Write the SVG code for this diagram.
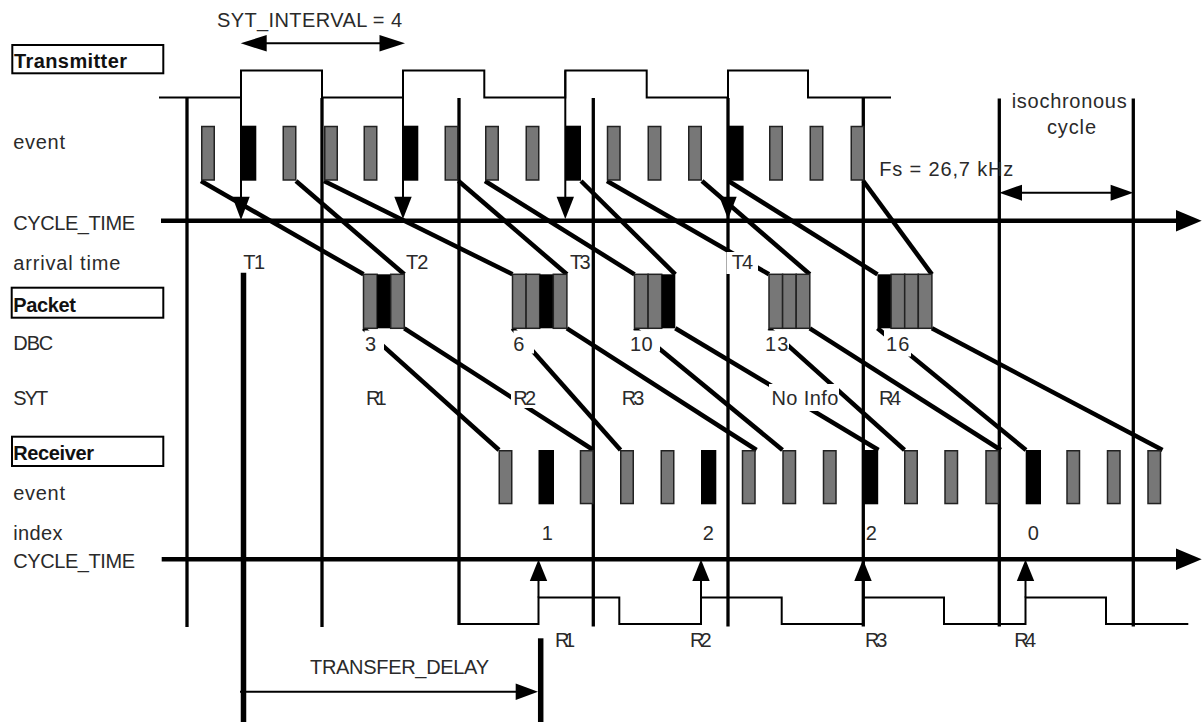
<svg xmlns="http://www.w3.org/2000/svg" width="1203" height="722" viewBox="0 0 1203 722">
<style>
.t{font-family:"Liberation Sans",Arial,Helvetica,sans-serif;font-size:20px;fill:#2a2a2a}
.b{font-weight:bold;fill:#111}
.g{fill:#777;stroke:#222;stroke-width:1.5}
.k{fill:#000}
.conn{stroke:#000;stroke-width:4.5;fill:none}
.cyc{stroke:#000;stroke-width:3.3;fill:none}
.thin{stroke:#000;stroke-width:2;fill:none}
.axis{stroke:#000;stroke-width:4.5;fill:none}
.heavy{stroke:#000;stroke-width:5.5;fill:none}
.bg{fill:#fff}
.box{fill:#fff;stroke:#000;stroke-width:2}
</style>
<rect width="1203" height="722" fill="#fff"/>

<!-- row label boxes -->
<g id="lbl-transmitter"><rect class="box" x="12.3" y="45" width="151" height="28.3"/><text class="t b" x="14" y="68" textLength="113" lengthAdjust="spacing">Transmitter</text></g>
<g id="lbl-packet"><rect class="box" x="11.7" y="287.7" width="151.6" height="30"/><text class="t b" x="13.3" y="311.5" textLength="62.7" lengthAdjust="spacing">Packet</text></g>
<g id="lbl-receiver"><rect class="box" x="12" y="436.7" width="151.3" height="29.3"/><text class="t b" x="13.3" y="460" textLength="80.7" lengthAdjust="spacing">Receiver</text></g>

<g id="row-labels">
<text class="t" x="13.3" y="149" textLength="51.7" lengthAdjust="spacing">event</text>
<text class="t" x="13.3" y="230" textLength="121.7" lengthAdjust="spacing">CYCLE_TIME</text>
<text class="t" x="13.3" y="270" textLength="107" lengthAdjust="spacing">arrival time</text>
<text class="t" x="13.3" y="350" textLength="40" lengthAdjust="spacing">DBC</text>
<text class="t" x="13.3" y="405" textLength="35" lengthAdjust="spacing">SYT</text>
<text class="t" x="13.3" y="500" textLength="51.7" lengthAdjust="spacing">event</text>
<text class="t" x="13.3" y="540" textLength="49.3" lengthAdjust="spacing">index</text>
<text class="t" x="13.3" y="567.7" textLength="121.7" lengthAdjust="spacing">CYCLE_TIME</text>
</g>

<!-- isochronous cycle boundaries -->
<g id="cycle-lines">
<line class="cyc" x1="187" y1="98" x2="187" y2="627"/>
<line class="cyc" x1="322" y1="98" x2="322" y2="627"/>
<line class="cyc" x1="459" y1="98" x2="459" y2="625"/>
<line class="cyc" x1="593.3" y1="98" x2="593.3" y2="626.5"/>
<line class="cyc" x1="728" y1="98" x2="728" y2="626.5"/>
<line class="cyc" x1="863.3" y1="98" x2="863.3" y2="626.5"/>
<line class="cyc" x1="999.3" y1="98.5" x2="999.3" y2="626.5"/>
<line class="cyc" x1="1133.3" y1="98.5" x2="1133.3" y2="626.5"/>
</g>

<!-- waveforms -->
<g id="tx-wave"><path class="thin" d="M159,97.5 H241 V70.5 H322 V97.5 H403 V70.5 H484.3 V97.5 H565.3 V70.5 H646.7 V97.5 H728 V70.5 H808 V97.5 H891"/></g>
<g id="rx-wave"><path class="thin" d="M459,624 H538.5 V597.5 H619.3 V624 H701 V597.5 H781.7 V624 H863 V597.5 H944 V624 H1025.5 V597.5 H1106 V624 H1188.3"/></g>

<!-- axes -->
<g id="axis-tx"><line class="axis" x1="161" y1="220.8" x2="1178" y2="220.8"/><polygon class="k" points="1201.7,220.8 1176,210 1176,231.6"/></g>
<g id="axis-rx"><line class="axis" x1="161.7" y1="559.3" x2="1178" y2="559.3"/><polygon class="k" points="1201.7,559.3 1176,548.5 1176,570.1"/></g>

<g id="connectors">
<!-- SYT_INTERVAL dimension -->
<line class="thin" x1="262" y1="43.3" x2="384" y2="43.3"/>
<polygon class="k" points="240.7,43.3 266.7,35 266.7,51.6"/>
<polygon class="k" points="405,43.3 379.5,35 379.5,51.6"/>
<!-- isochronous cycle dimension -->
<line class="thin" x1="1018" y1="192.7" x2="1114" y2="192.7"/>
<polygon class="k" points="999.3,192.7 1022,184.7 1022,200.7"/>
<polygon class="k" points="1133.3,192.7 1110.6,184.7 1110.6,200.7"/>
<!-- timestamp arrows (transmitter) -->
<line class="thin" x1="241" y1="70.5" x2="241" y2="200"/><polygon class="k" points="241,220 232.3,196.7 249.7,196.7"/>
<line class="thin" x1="403" y1="70.5" x2="403" y2="200"/><polygon class="k" points="403,219 394.3,196.7 411.7,196.7"/>
<line class="thin" x1="565.3" y1="70.5" x2="565.3" y2="200"/><polygon class="k" points="565.3,219 556.6,196.7 574,196.7"/>
<line class="thin" x1="728" y1="70.5" x2="728" y2="200"/><polygon class="k" points="728,219 719.3,196.7 736.7,196.7"/>
<!-- presentation arrows (receiver) -->
<line class="thin" x1="538.5" y1="597.5" x2="538.5" y2="578"/><polygon class="k" points="538.5,559.5 529.8,581 547.2,581"/>
<line class="thin" x1="701" y1="597.5" x2="701" y2="578"/><polygon class="k" points="701,559.5 692.3,581 709.7,581"/>
<line class="thin" x1="863" y1="597.5" x2="863" y2="578"/><polygon class="k" points="863,559.5 854.3,581 871.7,581"/>
<line class="thin" x1="1025.5" y1="597.5" x2="1025.5" y2="578"/><polygon class="k" points="1025.5,559.5 1016.8,581 1034.2,581"/>
<!-- transmitter events to packets -->
<line class="conn" x1="201" y1="181" x2="363.5" y2="274.3"/>
<line class="conn" x1="296" y1="181" x2="404.3" y2="274.3"/>
<line class="conn" x1="324" y1="181" x2="512.5" y2="274.3"/>
<line class="conn" x1="458.5" y1="181" x2="566.9" y2="274.3"/>
<line class="conn" x1="485" y1="181" x2="634.5" y2="274.3"/>
<line class="conn" x1="581" y1="181" x2="675.3" y2="274.3"/>
<line class="conn" x1="607" y1="181" x2="769" y2="274.3"/>
<line class="conn" x1="702" y1="181" x2="809.8" y2="274.3"/>
<line class="conn" x1="728.5" y1="181" x2="877.5" y2="274.3"/>
<line class="conn" x1="863.3" y1="181" x2="931.9" y2="274.3"/>
<!-- packets to receiver events -->
<line class="conn" x1="363.5" y1="328.3" x2="499" y2="450"/>
<line class="conn" x1="404.3" y1="328.3" x2="593.3" y2="450"/>
<line class="conn" x1="512.5" y1="328.3" x2="620.5" y2="450"/>
<line class="conn" x1="566.9" y1="328.3" x2="756.5" y2="450"/>
<line class="conn" x1="634.5" y1="328.3" x2="782.5" y2="450"/>
<line class="conn" x1="675.3" y1="328.3" x2="878.5" y2="450"/>
<line class="conn" x1="769" y1="328.3" x2="904.5" y2="450"/>
<line class="conn" x1="809.8" y1="328.3" x2="1000.8" y2="450"/>
<line class="conn" x1="877.5" y1="328.3" x2="1026" y2="450"/>
<line class="conn" x1="931.9" y1="328.3" x2="1162.5" y2="450"/>
<!-- transfer delay -->
<line class="heavy" x1="243.5" y1="272.7" x2="243.5" y2="722"/>
<line class="heavy" x1="540.7" y1="638.3" x2="540.7" y2="722"/>
<line class="thin" x1="240" y1="691.7" x2="518" y2="691.7"/>
<polygon class="k" points="538,691.7 515.7,683.4 515.7,700"/>
</g>

<!-- transmitter events -->
<g id="tx-e0"><rect class="g" x="201.75" y="126.5" width="12.5" height="53.5"/></g>
<g id="tx-e1"><rect class="k" x="241" y="125.7" width="15.3" height="55"/></g>
<g id="tx-e2"><rect class="g" x="283.25" y="126.5" width="12.5" height="53.5"/></g>
<g id="tx-e3"><rect class="g" x="324.75" y="126.5" width="12.5" height="53.5"/></g>
<g id="tx-e4"><rect class="g" x="364.25" y="126.5" width="12.5" height="53.5"/></g>
<g id="tx-e5"><rect class="k" x="403" y="125.7" width="15.3" height="55"/></g>
<g id="tx-e6"><rect class="g" x="445.25" y="126.5" width="12.5" height="53.5"/></g>
<g id="tx-e7"><rect class="g" x="485.75" y="126.5" width="12.5" height="53.5"/></g>
<g id="tx-e8"><rect class="g" x="526.25" y="126.5" width="12.5" height="53.5"/></g>
<g id="tx-e9"><rect class="k" x="565.7" y="125.7" width="15.3" height="55"/></g>
<g id="tx-e10"><rect class="g" x="607.5" y="126.5" width="12.5" height="53.5"/></g>
<g id="tx-e11"><rect class="g" x="648.25" y="126.5" width="12.5" height="53.5"/></g>
<g id="tx-e12"><rect class="g" x="688.75" y="126.5" width="12.5" height="53.5"/></g>
<g id="tx-e13"><rect class="k" x="728.3" y="125.7" width="15.3" height="55"/></g>
<g id="tx-e14"><rect class="g" x="769.75" y="126.5" width="12.5" height="53.5"/></g>
<g id="tx-e15"><rect class="g" x="810.25" y="126.5" width="12.5" height="53.5"/></g>
<g id="tx-e16"><rect class="g" x="851.25" y="126.5" width="12.5" height="53.5"/></g>

<!-- packets -->
<g id="packet-1"><rect class="g" x="363.5" y="274.3" width="13.6" height="54"/><rect class="k" x="377.1" y="274.3" width="13.6" height="54"/><rect class="g" x="390.7" y="274.3" width="13.6" height="54"/></g>
<g id="packet-2"><rect class="g" x="512.5" y="274.3" width="13.6" height="54"/><rect class="g" x="526.1" y="274.3" width="13.6" height="54"/><rect class="k" x="539.7" y="274.3" width="13.6" height="54"/><rect class="g" x="553.3" y="274.3" width="13.6" height="54"/></g>
<g id="packet-3"><rect class="g" x="634.5" y="274.3" width="13.6" height="54"/><rect class="g" x="648.1" y="274.3" width="13.6" height="54"/><rect class="k" x="661.7" y="274.3" width="13.6" height="54"/></g>
<g id="packet-4"><rect class="g" x="769" y="274.3" width="13.6" height="54"/><rect class="g" x="782.6" y="274.3" width="13.6" height="54"/><rect class="g" x="796.2" y="274.3" width="13.6" height="54"/></g>
<g id="packet-5"><rect class="k" x="877.5" y="274.3" width="13.6" height="54"/><rect class="g" x="891.1" y="274.3" width="13.6" height="54"/><rect class="g" x="904.7" y="274.3" width="13.6" height="54"/><rect class="g" x="918.3" y="274.3" width="13.6" height="54"/></g>

<!-- receiver events -->
<g id="rx-e0"><rect class="g" x="499.25" y="450.75" width="12.5" height="52.8"/></g>
<g id="rx-e1"><rect class="k" x="538.5" y="450" width="15.5" height="54.3"/></g>
<g id="rx-e2"><rect class="g" x="580.5" y="450.75" width="12.5" height="52.8"/></g>
<g id="rx-e3"><rect class="g" x="620.75" y="450.75" width="12.5" height="52.8"/></g>
<g id="rx-e4"><rect class="g" x="661.25" y="450.75" width="12.5" height="52.8"/></g>
<g id="rx-e5"><rect class="k" x="701" y="450" width="15.3" height="54.3"/></g>
<g id="rx-e6"><rect class="g" x="742.5" y="450.75" width="12.5" height="52.8"/></g>
<g id="rx-e7"><rect class="g" x="783" y="450.75" width="12.5" height="52.8"/></g>
<g id="rx-e8"><rect class="g" x="823.5" y="450.75" width="12.5" height="52.8"/></g>
<g id="rx-e9"><rect class="k" x="862.7" y="450" width="15.5" height="54.3"/></g>
<g id="rx-e10"><rect class="g" x="904.75" y="450.75" width="12.5" height="52.8"/></g>
<g id="rx-e11"><rect class="g" x="945" y="450.75" width="12.5" height="52.8"/></g>
<g id="rx-e12"><rect class="g" x="986" y="450.75" width="12.5" height="52.8"/></g>
<g id="rx-e13"><rect class="k" x="1025.7" y="450" width="15.3" height="54.3"/></g>
<g id="rx-e14"><rect class="g" x="1067" y="450.75" width="12.5" height="52.8"/></g>
<g id="rx-e15"><rect class="g" x="1107.5" y="450.75" width="12.5" height="52.8"/></g>
<g id="rx-e16"><rect class="g" x="1148" y="450.75" width="12.5" height="52.8"/></g>

<!-- label backgrounds -->
<g id="label-bg">
<rect class="bg" x="726.5" y="252" width="31.5" height="22"/>
<rect class="bg" x="364.5" y="330.5" width="19.5" height="24"/>
<rect class="bg" x="513.5" y="330.5" width="20.5" height="23"/>
<rect class="bg" x="630" y="330.5" width="30" height="21"/>
<rect class="bg" x="764" y="330.5" width="25" height="18"/>
<rect class="bg" x="884" y="330.5" width="27" height="26"/>
<rect class="bg" x="511" y="388" width="27" height="20"/>
<rect class="bg" x="769" y="384" width="70" height="27"/>
</g>

<g id="texts">
<text class="t" x="217" y="27" textLength="185" lengthAdjust="spacing">SYT_INTERVAL = 4</text>
<text class="t" x="1011.7" y="108" textLength="115" lengthAdjust="spacing">isochronous</text>
<text class="t" x="1047" y="133.5" textLength="49" lengthAdjust="spacing">cycle</text>
<text class="t" x="879.3" y="175.5" textLength="134" lengthAdjust="spacing">Fs = 26,7 kHz</text>
<text class="t" x="243.3" y="269.3" textLength="21.7" lengthAdjust="spacing">T1</text>
<text class="t" x="406" y="269.3" textLength="22.3" lengthAdjust="spacing">T2</text>
<text class="t" x="570" y="269.3" textLength="20.7" lengthAdjust="spacing">T3</text>
<text class="t" x="731.7" y="269.3" textLength="21.3" lengthAdjust="spacing">T4</text>
<text class="t" x="365" y="350.5">3</text>
<text class="t" x="513.3" y="350.5">6</text>
<text class="t" x="630" y="350.5" textLength="22.7" lengthAdjust="spacing">10</text>
<text class="t" x="765" y="350.5" textLength="23.3" lengthAdjust="spacing">13</text>
<text class="t" x="886" y="350.5" textLength="23.3" lengthAdjust="spacing">16</text>
<text class="t" x="366" y="404.5" textLength="20.7" lengthAdjust="spacing">R1</text>
<text class="t" x="513.3" y="404.5" textLength="22.7" lengthAdjust="spacing">R2</text>
<text class="t" x="621.7" y="404.5" textLength="22.6" lengthAdjust="spacing">R3</text>
<text class="t" x="771.5" y="404.5" textLength="66.8" lengthAdjust="spacing">No Info</text>
<text class="t" x="879" y="404.5" textLength="22" lengthAdjust="spacing">R4</text>
<text class="t" x="541.7" y="539.5">1</text>
<text class="t" x="702.7" y="539.5">2</text>
<text class="t" x="865.7" y="539.5">2</text>
<text class="t" x="1027.7" y="539.5">0</text>
<text class="t" x="555" y="647.3" textLength="20" lengthAdjust="spacing">R1</text>
<text class="t" x="690" y="647.3" textLength="21.7" lengthAdjust="spacing">R2</text>
<text class="t" x="865" y="647.3" textLength="22.3" lengthAdjust="spacing">R3</text>
<text class="t" x="1014.3" y="647.3" textLength="21.7" lengthAdjust="spacing">R4</text>
<text class="t" x="310" y="674" textLength="179" lengthAdjust="spacing">TRANSFER_DELAY</text>
</g>
</svg>
